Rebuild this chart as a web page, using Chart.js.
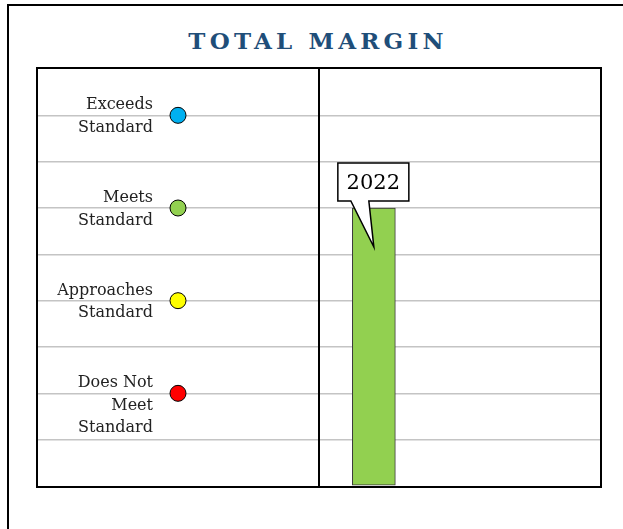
<!DOCTYPE html>
<html>
<head>
<meta charset="utf-8">
<script src="https://cdn.jsdelivr.net/npm/chart.js@4/dist/chart.umd.min.js"></script>
<style>
  html, body { margin: 0; padding: 0; background: #fff; width: 623px; height: 529px; overflow: hidden; }
  .frame { position: absolute; left: 7px; top: 4px; width: 640px; height: 560px;
           border-top: 2px solid #000; border-left: 2px solid #000; }
  .title { position: absolute; left: 0; width: 636px; top: 27px; text-align: center;
           font: bold 23px "DejaVu Serif", serif; letter-spacing: 4.2px; color: #1f4e79; }
  .plot { position: absolute; left: 36px; top: 67px; width: 562px; height: 417px;
          border: 2px solid #000; display: flex; }
  .panel { position: relative; width: 280px; height: 417px; }
  .panel.left { border-right: 2px solid #000; }
</style>
</head>
<body>
<div class="frame"></div>
<div class="title">TOTAL MARGIN</div>
<div class="plot">
  <div class="panel left"><canvas id="cLevels"></canvas></div>
  <div class="panel"><canvas id="cMargin"></canvas></div>
</div>
<script>
// ── datos ──
const LEVEL_LABELS = [
    ['Exceeds', 'Standard'],
    ['Meets', 'Standard'],
    ['Approaches', 'Standard'],
    ['Does Not', 'Meet', 'Standard']
];
const LEVEL_VALUES = [8, 6, 4, 2];
const LEVEL_COLORS = ['#00b0f0', '#92d050', '#ffff00', '#ff0000'];

const YEARS = ['2022'];
const MARGIN = [6];

const Y_MIN = 0, Y_MAX = 9;
const SERIF = '"DejaVu Serif", serif';

function yScale() {
    return {
        min: Y_MIN, max: Y_MAX,
        ticks: { display: false, stepSize: 1 },
        border: { display: false },
        grid: {
            drawTicks: false,
            lineWidth: 1.5,
            color: c => (c.tick.value === Y_MIN || c.tick.value === Y_MAX) ? 'rgba(0,0,0,0)' : '#c4c4c4'
        }
    };
}

function baseOptions(xScale) {
    return {
        responsive: true,
        maintainAspectRatio: false,
        animation: false,
        layout: { padding: 0, autoPadding: false },
        plugins: { legend: { display: false }, tooltip: { enabled: false } },
        scales: { x: xScale, y: yScale() }
    };
}

// etiquetas de nivel a la izquierda de cada círculo
const levelText = {
    id: 'levelText',
    afterDatasetsDraw(chart) {
        const ctx = chart.ctx;
        const pts = chart.getDatasetMeta(0).data;
        ctx.save();
        ctx.font = '16px ' + SERIF;
        ctx.fillStyle = '#222';
        ctx.textAlign = 'right';
        ctx.textBaseline = 'middle';
        pts.forEach((p, i) => {
            LEVEL_LABELS[i].forEach((line, k) => {
                ctx.fillText(line, p.x - 25, p.y - 10 + k * 22.5);
            });
        });
        ctx.restore();
    }
};

// globo con el año sobre cada barra
const yearCallout = {
    id: 'yearCallout',
    afterDatasetsDraw(chart) {
        const ctx = chart.ctx;
        chart.getDatasetMeta(0).data.forEach((bar, i) => {
            const cx = bar.x, top = bar.y;
            const bx = cx - 36, by = top - 45, bw = 71, bh = 38;
            ctx.save();
            ctx.fillStyle = '#fff';
            ctx.strokeStyle = '#000';
            ctx.lineWidth = 1.5;
            ctx.lineJoin = 'miter';
            ctx.beginPath();
            ctx.moveTo(bx, by);
            ctx.lineTo(bx + bw, by);
            ctx.lineTo(bx + bw, by + bh);
            ctx.lineTo(cx - 5, by + bh);
            ctx.lineTo(cx, top + 39);
            ctx.lineTo(cx - 23, by + bh);
            ctx.lineTo(bx, by + bh);
            ctx.closePath();
            ctx.fill();
            ctx.stroke();
            ctx.font = '21px ' + SERIF;
            ctx.fillStyle = '#000';
            ctx.textAlign = 'center';
            ctx.textBaseline = 'middle';
            ctx.fillText(YEARS[i], bx + bw / 2, by + bh / 2 + 2);
            ctx.restore();
        });
    }
};

new Chart(document.getElementById('cLevels'), {
    type: 'scatter',
    data: {
        datasets: [{
            data: LEVEL_VALUES.map(v => ({ x: 0, y: v })),
            pointRadius: 8,
            pointBackgroundColor: LEVEL_COLORS,
            pointBorderColor: '#000',
            pointBorderWidth: 1
        }]
    },
    options: baseOptions({ type: 'linear', min: -1, max: 1, display: false }),
    plugins: [levelText]
});

new Chart(document.getElementById('cMargin'), {
    type: 'bar',
    data: {
        datasets: [{
            data: YEARS.map((y, i) => ({ x: i, y: MARGIN[i] })),
            backgroundColor: '#92d050',
            borderColor: '#3a3a3a',
            borderWidth: 1,
            borderSkipped: false,
            barThickness: 43
        }]
    },
    options: baseOptions({ type: 'linear', min: -0.5, max: 2.1, offset: false, display: false }),
    plugins: [yearCallout]
});
</script>
</body>
</html>
